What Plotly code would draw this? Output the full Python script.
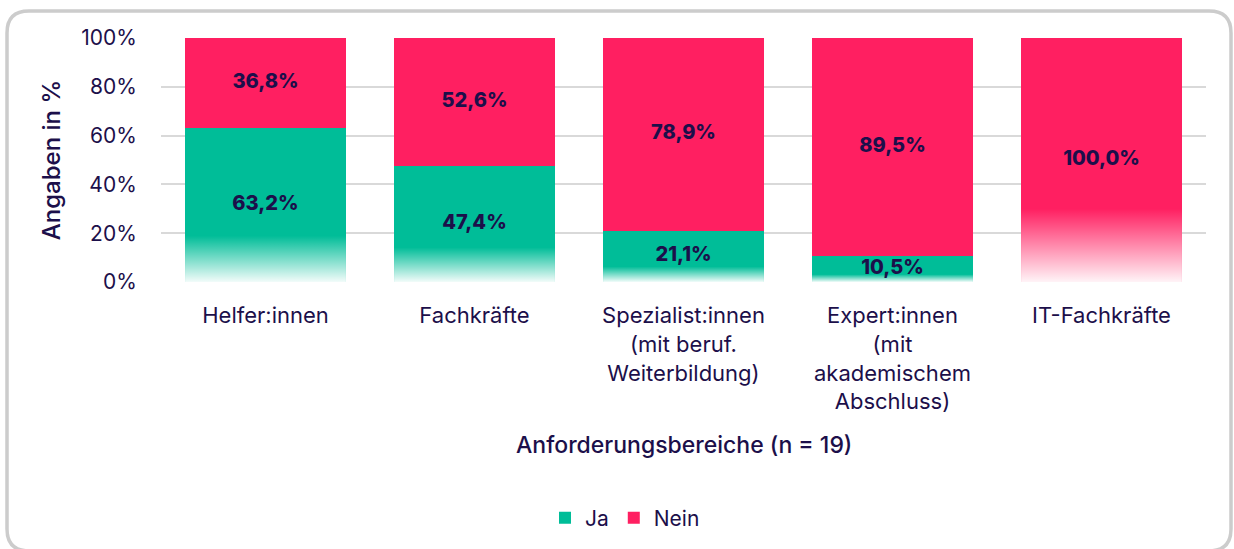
import plotly.graph_objects as go

categories = ["Helfer:innen", "Fachkräfte", "Spezialist:innen<br>(mit beruf.<br>Weiterbildung)",
              "Expert:innen<br>(mit<br>akademischem<br>Abschluss)", "IT-Fachkräfte"]
ja = [63.2, 47.4, 21.1, 10.5, 0.0]
nein = [36.8, 52.6, 78.9, 89.5, 100.0]
y_ticks = [0, 20, 40, 60, 80, 100]
y_ticktext = ["0%", "20%", "40%", "60%", "80%", "100%"]

TEAL = "#00BD98"
PINK = "#FF1F61"
TEXT = "#1C0F4A"
FONT = "Inter"
BAR_W = 0.77
FADE = 0.3

L, R, T, B = 161, 28, 38, 266
W, H = 1234, 549
PW, PH = W - L - R, H - T - B

def px(xp):
    return (xp - L) / PW

def py(yp):
    return (H - B - yp) / PH

def fmt(v):
    return f"{v:.1f}".replace(".", ",") + "%"

xs = list(range(len(categories)))

fig = go.Figure()
fig.add_trace(go.Bar(x=xs, y=ja, name="Ja", marker=dict(color=TEAL, line=dict(width=0)),
                     width=BAR_W, hoverinfo="skip"))
fig.add_trace(go.Bar(x=xs, y=nein, name="Nein", marker=dict(color=PINK, line=dict(width=0)),
                     width=BAR_W, hoverinfo="skip"))

# white fade at the bottom of each bar's lowest segment
for i in xs:
    seg = ja[i] if ja[i] > 0 else nein[i]
    h = seg * FADE
    x0, x1 = i - BAR_W / 2, i + BAR_W / 2
    fig.add_trace(go.Scatter(
        x=[x0, x1, x1, x0, x0], y=[0, 0, h, h, 0], mode="lines", fill="toself",
        line=dict(width=0, color="rgba(255,255,255,0)"),
        fillgradient=dict(type="vertical", start=0, stop=h,
                          colorscale=[[0, "rgba(255,255,255,0.95)"], [1, "rgba(255,255,255,0)"]]),
        showlegend=False, hoverinfo="skip"))

# value labels
lx, ly, lt = [], [], []
for i in xs:
    if ja[i] > 0:
        lx.append(i); ly.append(ja[i] / 2); lt.append(fmt(ja[i]))
    if nein[i] > 0:
        lx.append(i); ly.append(ja[i] + nein[i] / 2); lt.append(fmt(nein[i]))
fig.add_trace(go.Scatter(x=lx, y=ly, text=lt, mode="text",
                         textfont=dict(family=FONT, size=20, color=TEXT, weight=800),
                         showlegend=False, hoverinfo="skip"))

# rounded border
bx0, by0, bx1, by1, r = 7, 11, 1231, 553, 22
path = (f"M {px(bx0 + r)},{py(by0)} L {px(bx1 - r)},{py(by0)} Q {px(bx1)},{py(by0)} {px(bx1)},{py(by0 + r)} "
        f"L {px(bx1)},{py(by1 - r)} Q {px(bx1)},{py(by1)} {px(bx1 - r)},{py(by1)} "
        f"L {px(bx0 + r)},{py(by1)} Q {px(bx0)},{py(by1)} {px(bx0)},{py(by1 - r)} "
        f"L {px(bx0)},{py(by0 + r)} Q {px(bx0)},{py(by0)} {px(bx0 + r)},{py(by0)} Z")
fig.add_shape(type="path", path=path, xref="paper", yref="paper",
              line=dict(color="#CCCCCC", width=3.5), layer="below")

fig.add_annotation(text="Anforderungsbereiche (n = 19)", xref="paper", yref="paper",
                   x=0.5, y=py(447), xanchor="center", yanchor="middle", showarrow=False,
                   font=dict(family=FONT, size=23, color=TEXT, weight=500))

fig.update_layout(
    barmode="stack",
    width=W, height=H,
    margin=dict(l=L, r=R, t=T, b=B),
    paper_bgcolor="white", plot_bgcolor="white",
    font=dict(family=FONT, size=21, color=TEXT),
    xaxis=dict(tickmode="array", tickvals=xs, ticktext=categories, range=[-0.5, len(xs) - 0.5],
               showgrid=False, zeroline=False, ticks="outside", ticklen=14,
               tickcolor="rgba(0,0,0,0)", tickfont=dict(size=22, color=TEXT)),
    yaxis=dict(range=[0, 100], tickmode="array", tickvals=y_ticks, ticktext=y_ticktext,
               showgrid=True, gridcolor="#D9D9D9", gridwidth=2, zeroline=False,
               showline=False, ticks="outside", ticklen=19, tickcolor="rgba(0,0,0,0)",
               tickfont=dict(size=21, color=TEXT),
               title=dict(text="Angaben in %", font=dict(size=24, color=TEXT, weight=500), standoff=13)),
    legend=dict(orientation="h", x=px(625), xanchor="center", y=py(518), yanchor="middle",
                font=dict(size=21, color=TEXT), traceorder="normal", itemwidth=30),
    showlegend=True,
)

fig.write_html("out.html", post_script="document.body.style.margin='0px';",
               config={"displayModeBar": False})
